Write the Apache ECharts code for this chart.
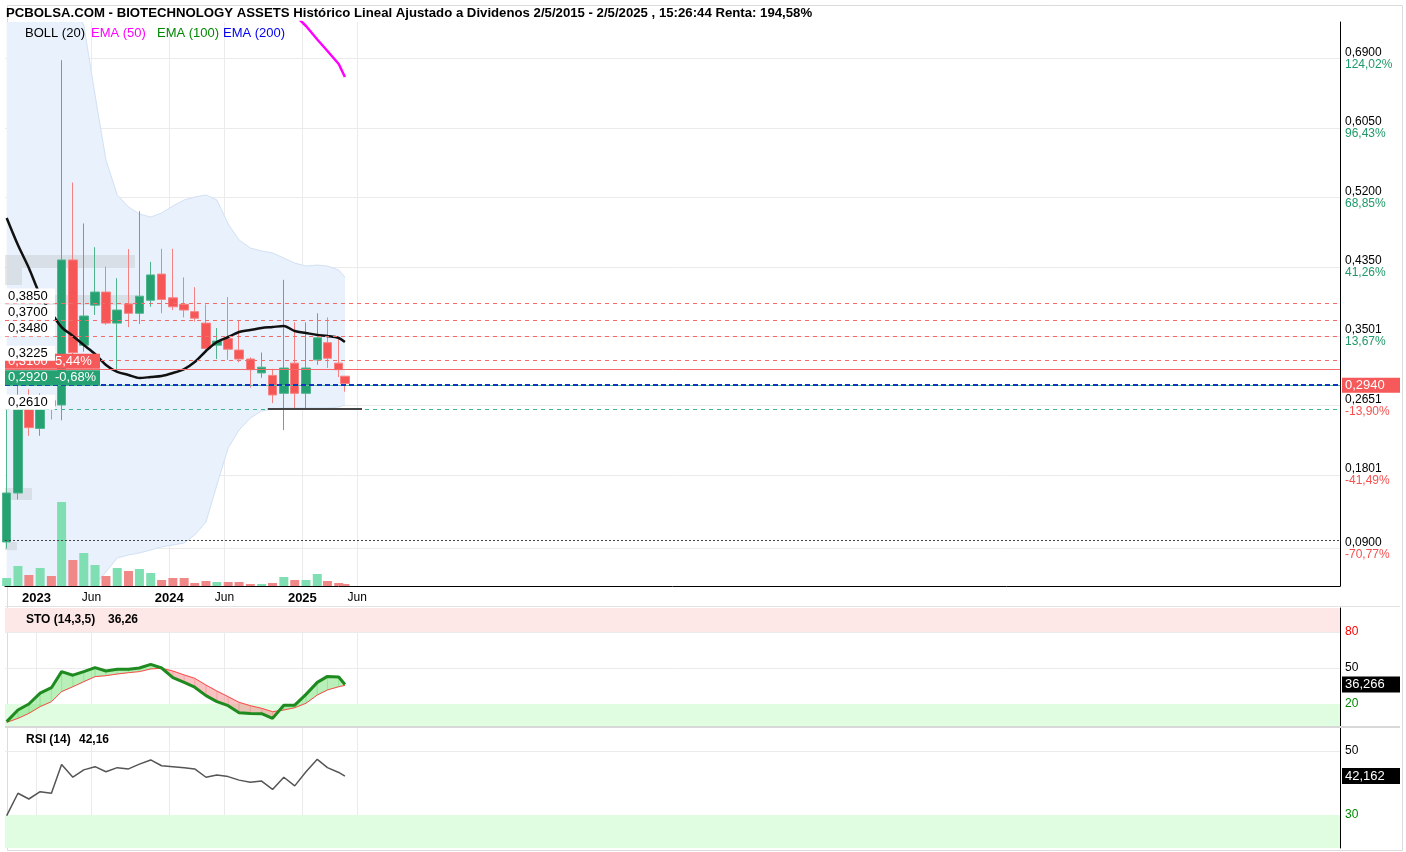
<!DOCTYPE html>
<html><head><meta charset="utf-8">
<script src="https://cdn.jsdelivr.net/npm/echarts@6/dist/echarts.min.js"></script>
<style>html,body{margin:0;padding:0;background:#fff}#c{width:1406px;height:852px}</style>
</head><body><div id="c"></div>
<script>
// ---------------- DATA ----------------
const dates = ['2022-10-11','2022-11-11','2022-12-11',
 '2023-01-11','2023-02-11','2023-03-11','2023-04-11','2023-05-11','2023-06-11','2023-07-11','2023-08-11','2023-09-11','2023-10-11','2023-11-11','2023-12-11',
 '2024-01-11','2024-02-11','2024-03-11','2024-04-11','2024-05-11','2024-06-11','2024-07-11','2024-08-11','2024-09-11','2024-10-11','2024-11-11','2024-12-11',
 '2025-01-11','2025-02-11','2025-03-11','2025-04-11','2025-04-28'];
const open  = [0.098,0.158,0.270,0.237,0.271,0.2657,0.4433,0.339,0.388,0.404,0.366,0.3895,0.378,0.394,0.426,0.397,0.389,0.380,0.366,0.339,0.347,0.333,0.322,0.305,0.302,0.280,0.317,0.280,0.321,0.342,0.317,0.301];
const close = [0.158,0.275,0.238,0.270,0.2645,0.4433,0.330,0.3747,0.404,0.366,0.382,0.378,0.399,0.425,0.395,0.386,0.382,0.372,0.335,0.344,0.334,0.322,0.309,0.312,0.278,0.311,0.280,0.311,0.348,0.323,0.309,0.292];
const high  = [0.270,0.300,0.285,0.280,0.275,0.688,0.538,0.488,0.459,0.435,0.421,0.4567,0.503,0.441,0.457,0.457,0.422,0.410,0.389,0.360,0.398,0.369,0.324,0.330,0.310,0.419,0.367,0.367,0.378,0.373,0.348,0.301];
const low   = [0.090,0.150,0.228,0.228,0.248,0.247,0.328,0.331,0.376,0.364,0.309,0.361,0.365,0.386,0.378,0.382,0.373,0.368,0.333,0.322,0.321,0.318,0.287,0.299,0.268,0.235,0.260,0.262,0.315,0.311,0.300,0.282];
const volume = [8,20,11,18,10,84,26,33,21,10,18,15,17,13,6,8,8,3,5,4,4,4,2,2,3,9,6,6,12,5,3,2];
const bollMid   = [0.4947,0.4616,0.4335,0.4004,0.3784,0.3612,0.3502,0.3392,0.3282,0.3147,0.3062,0.3025,0.2988,0.3000,0.3012,0.3049,0.3098,0.3184,0.3319,0.3429,0.3490,0.3551,0.3576,0.3600,0.3612,0.3625,0.3563,0.3539,0.3515,0.3502,0.3478,0.3429];
const bollUpper = [1.0677,1.0065,0.9453,0.8841,0.8351,0.7861,0.7555,0.7310,0.6453,0.5657,0.5229,0.5082,0.4996,0.4959,0.5008,0.5094,0.5168,0.5204,0.5229,0.5168,0.4874,0.4678,0.4580,0.4543,0.4519,0.4457,0.4396,0.4359,0.4371,0.4359,0.4310,0.4224];
const bollLower = [-0.0710,-0.0587,-0.0404,-0.0220,-0.0036,0.0123,0.0245,0.0356,0.0454,0.0613,0.0784,0.0821,0.0845,0.0882,0.0919,0.0943,0.0968,0.1066,0.1225,0.1678,0.2131,0.2351,0.2498,0.2584,0.2609,0.2621,0.2621,0.2621,0.2621,0.2621,0.2633,0.2658];
const ema50 = [null,null,null,null,null,null,null,null,null,null,null,null,null,null,null,null,null,null,null,null,null,null,null,null,null,0.7592,0.7433,0.7298,0.7133,0.6992,0.6833,0.6673];
const stoK = [5.3,15,20,29,33.6,47,44,47,50.3,47.5,49,49,50,53,50,42,38,34,27,22,18.6,12.8,12,11.9,8,19,19,28,38,43,42.5,36.27];
const stoD = [4.7,8,12.2,17.8,21.9,30.3,34.4,38.6,42.8,43.6,45,46.1,47,49.2,49.8,47.5,44.2,41.4,35.8,30.8,26.1,21.4,18.6,16.4,13.6,15,16.9,20.6,27.5,31.7,34.4,35.5];
const rsi = [29.8,36.8,35,37.3,36.8,45.8,41.8,44.1,45.1,43.5,44.8,44.4,45.9,47.2,45.4,45.1,44.8,44.4,41.8,42.5,42,40.9,40.2,40.6,38,41.8,39.1,43.5,47.4,44.8,43.3,42.16];
// volume-at-price profile (price band low/high, relative volume)
const vpLow  = [0.4335,0.4127,0.3882,0.1494,0.0880];
const vpHigh = [0.4494,0.4335,0.4004,0.1642,0.0980];
const vpVol  = [130,17,132,27,12];

const priceTickValues = [0.09,0.1801,0.2651,0.3501,0.435,0.52,0.605,0.69];
const priceTickLabels = ['0,0900','0,1801','0,2651','0,3501','0,4350','0,5200','0,6050','0,6900'];
const pctTickLabels   = ['-70,77%','-41,49%','-13,90%','13,67%','41,26%','68,85%','96,43%','124,02%'];
const xTickDates  = ['2023-01-01','2023-06-01','2024-01-01','2024-06-01','2025-01-01','2025-06-01'];
const xTickLabels = ['2023','Jun','2024','Jun','2025','Jun'];
const levelLines = [
  {v:0.385, text:'0,3850'}, {v:0.370, text:'0,3700'}, {v:0.348, text:'0,3480'}, {v:0.3225, text:'0,3225'}
];
const lastLine = {v:0.310, text:'0,3100  5,44%'};
const closeLine = {v:0.2920, text:'0,2920  -0,68%'};
const supportLine = {v:0.2610, text:'0,2610'};
const priceBadge = {v:0.2940, text:'0,2940'};
const minLine = 0.0980;
const segLine = {v:0.2607, from:'2024-09-28', to:'2025-06-14'};
const stoBadge = {v:36.266, text:'36,266'};
const rsiBadge = {v:42.162, text:'42,162'};
const titleText = 'PCBOLSA.COM - BIOTECHNOLOGY ASSETS Histórico Lineal Ajustado a Dividenos 2/5/2015 - 2/5/2025 , 15:26:44 Renta: 194,58%';
const legendItems = [{t:'BOLL (20)', c:'#000'}, {t:'EMA (50)', c:'#ff00ff'}, {t:'EMA (100)', c:'#008800'}, {t:'EMA (200)', c:'#0000ee'}];

// ---------------- LAYOUT ----------------
const FONT = '"Liberation Sans", Arial, sans-serif';
const DAY = 86400000;
const PX_PER_DAY = 0.3637;
const anchor = new Date(2023,0,1).getTime();
const xMin = anchor - 31.5/PX_PER_DAY*DAY;
const xMax = anchor + 1303.5/PX_PER_DAY*DAY;
const ts = s => { const p = s.split('-').map(Number); return new Date(p[0], p[1]-1, p[2]).getTime(); };
const T = dates.map(ts);
const GREEN = '#26a172', RED = '#f65656';
const L = 5, R = 66;
const legendX = [25, 91, 157, 223];

const candleData = T.map((t,i)=>[t, open[i], close[i], low[i], high[i]]);
const volData = T.map((t,i)=>({value:[t, volume[i]], itemStyle:{color: close[i]>=open[i] ? '#7fdfb2' : '#f08888'}}));
const pair = a => T.map((t,i)=>[t, a[i]]);

const xTickTs = xTickDates.map(ts);
function xAxisBase(gi, showLabels){
  return {type:'value', gridIndex:gi, min:xMin, max:xMax, scale:true,
    axisLine:{show:showLabels, onZero:false, lineStyle:{color:'#000', width:1}},
    axisTick:{show:false, customValues:xTickTs},
    splitLine:{show:gi!==1, lineStyle:{color:'#ebebeb', width:1}},
    axisLabel:{show:showLabels, customValues:xTickTs, margin:6, fontFamily:FONT, fontSize:12, color:'#000',
      formatter:(v)=>{ let i=0,b=1e15; xTickTs.forEach((x,j)=>{ if(Math.abs(x-v)<b){b=Math.abs(x-v); i=j;} }); const s = xTickLabels[i]; return /^\d{4}$/.test(s) ? '{b|'+s+'}' : s; },
      rich:{b:{fontWeight:'bold', fontSize:13, fontFamily:FONT, color:'#000'}}}
  };
}

const lblBase = {show:true, position:'insideStartTop', distance:[0,0], fontSize:13, lineHeight:13, fontFamily:FONT};
const lineMarks = [];
lineMarks.push({yAxis:lastLine.v, lineStyle:{type:'solid', color:'#f46a6a', width:1},
  label:Object.assign({}, lblBase, {formatter:lastLine.text, color:'#fff', backgroundColor:'#f65959', padding:[1,3,1,3], width:89})});
lineMarks.push({yAxis:closeLine.v, lineStyle:{type:'solid', color:'#5cc49a', width:1},
  label:Object.assign({}, lblBase, {formatter:closeLine.text, color:'#fff', backgroundColor:GREEN, padding:[1,3,1,3], width:89})});
lineMarks.push({yAxis:closeLine.v, lineStyle:{type:[5,3], color:'#1234c0', width:2}, label:{show:false}});
levelLines.forEach(l=>lineMarks.push({yAxis:l.v, lineStyle:{type:[4,4], color:'#f46a6a', width:1},
  label:Object.assign({}, lblBase, {formatter:l.text, color:'#000', backgroundColor:'#fff', padding:[1,3,1,3], width:44})}));
lineMarks.push({yAxis:supportLine.v, lineStyle:{type:[4,4], color:'#3cb88a', width:1},
  label:Object.assign({}, lblBase, {formatter:supportLine.text, color:'#000', backgroundColor:'#fff', padding:[1,3,1,3], width:44})});
lineMarks.push({yAxis:priceBadge.v, lineStyle:{color:'rgba(0,0,0,0)', width:1},
  label:{show:true, position:'end', distance:2, formatter:priceBadge.text, color:'#fff', backgroundColor:'#f65959', padding:[1,3,1,3], width:52, fontSize:13, lineHeight:13, fontFamily:FONT}});
lineMarks.push({yAxis:minLine, lineStyle:{type:[2,2], color:'#444', width:1}, label:{show:false}});
lineMarks.push([{coord:[ts(segLine.from), segLine.v]},{coord:[ts(segLine.to), segLine.v]}]);

function bandRender(params, api){
  const up = T.map((t,i)=>api.coord([t,bollUpper[i]]));
  const lo = T.map((t,i)=>api.coord([t,bollLower[i]]));
  const ch = [
    {type:'polygon', shape:{points:up.concat(lo.slice().reverse())}, style:{fill:'#e8f1fc'}},
    {type:'polyline', shape:{points:up}, style:{stroke:'#d2e1f4', fill:null, lineWidth:1}},
    {type:'polyline', shape:{points:lo}, style:{stroke:'#d2e1f4', fill:null, lineWidth:1}}
  ];
  return {type:'group', children:ch};
}
function profileRender(params, api){
  const ch = [];
  const x0 = api.coord([xMin, 0])[0];
  vpVol.forEach((v,i)=>{
    const yTop = api.coord([xMin, vpHigh[i]])[1], yBot = api.coord([xMin, vpLow[i]])[1];
    ch.push({type:'rect', shape:{x:x0, y:yTop, width:v, height:yBot-yTop}, style:{fill:'rgba(190,190,190,0.35)'}});
  });
  return {type:'group', children:ch};
}
function stoFillRender(params, api){
  const ch = [];
  const poly = (pts, up)=>({type:'polygon', shape:{points:pts.map(p=>api.coord(p))},
    style:{fill: up ? 'rgba(100,220,100,0.45)' : 'rgba(240,120,120,0.45)', stroke: up ? 'rgba(100,220,100,0.45)' : 'rgba(240,120,120,0.45)', lineWidth:0.5}});
  for (let i=0;i<T.length-1;i++){
    const k0=stoK[i], k1=stoK[i+1], d0=stoD[i], d1=stoD[i+1];
    const s0=k0-d0, s1=k1-d1;
    if (s0*s1 < 0){
      const f = s0/(s0-s1);
      const tx = T[i]+(T[i+1]-T[i])*f, vy = k0+(k1-k0)*f;
      ch.push(poly([[T[i],k0],[tx,vy],[T[i],d0]], s0>0));
      ch.push(poly([[tx,vy],[T[i+1],k1],[T[i+1],d1]], s1>0));
    } else {
      ch.push(poly([[T[i],k0],[T[i+1],k1],[T[i+1],d1],[T[i],d0]], (s0+s1)>=0));
    }
  }
  return {type:'group', children:ch};
}

const option = {
  animation:false,
  backgroundColor:'#fff',
  textStyle:{fontFamily:FONT},
  grid:[
    {left:L, right:R, top:22, height:564},
    {left:L, right:R, top:486, height:100},
    {left:L, right:R, top:608, height:120},
    {left:L, right:R, top:728, height:120}
  ],
  xAxis:[xAxisBase(0,true), xAxisBase(1,false), xAxisBase(2,false), xAxisBase(3,false)],
  yAxis:[
    {type:'value', gridIndex:0, position:'right', min:0.04411, max:0.73469,
      axisLine:{show:true, lineStyle:{color:'#000', width:1}}, axisTick:{show:false, customValues:priceTickValues},
      splitLine:{show:true, lineStyle:{color:'#ebebeb'}},
      axisLabel:{customValues:priceTickValues, margin:5, fontFamily:FONT, fontSize:12, align:'left',
        formatter:(v)=>{ let i=0,b=1e9; priceTickValues.forEach((p,j)=>{ if(Math.abs(p-v)<b){b=Math.abs(p-v); i=j;} });
          return '{p|'+priceTickLabels[i]+'}\n{'+(pctTickLabels[i].charAt(0)==='-'?'r':'g')+'|'+pctTickLabels[i]+'}'; },
        rich:{p:{color:'#000', fontSize:12, lineHeight:12, fontFamily:FONT}, g:{color:'#1e9a68', fontSize:12, lineHeight:12, fontFamily:FONT}, r:{color:'#f55050', fontSize:12, lineHeight:12, fontFamily:FONT}}}},
    {type:'value', gridIndex:1, min:0, max:100, show:false},
    {type:'value', gridIndex:2, position:'right', min:0, max:100,
      axisLine:{show:true, lineStyle:{color:'#000'}}, axisTick:{show:false, customValues:[20,50,80]},
      splitLine:{show:true, lineStyle:{color:'#ebebeb'}},
      axisLabel:{customValues:[20,50,80], margin:5, fontFamily:FONT, fontSize:12, align:'left',
        formatter:v=> v===80?'{r|80}':(v===20?'{g|20}':'{k|50}'),
        rich:{r:{color:'#f00', fontSize:12}, g:{color:'#080', fontSize:12}, k:{color:'#000', fontSize:12}}}},
    {type:'value', gridIndex:3, position:'right', min:19.6875, max:57.1875,
      axisLine:{show:true, lineStyle:{color:'#000'}}, axisTick:{show:false, customValues:[30,50]},
      splitLine:{show:true, lineStyle:{color:'#ebebeb'}},
      axisLabel:{customValues:[30,50], margin:5, fontFamily:FONT, fontSize:12, align:'left',
        formatter:v=> v===30?'{g|30}':'{k|50}',
        rich:{g:{color:'#080', fontSize:12}, k:{color:'#000', fontSize:12}}}}
  ],
  series:[
    {type:'custom', name:'bollBand', xAxisIndex:0, yAxisIndex:0, data:[[T[0], bollMid[0]]], encode:{x:0, y:1}, clip:true, silent:true, z:1, renderItem:bandRender},
    {type:'custom', name:'profile', xAxisIndex:0, yAxisIndex:0, data:[[T[0], bollMid[0]]], encode:{x:0, y:1}, clip:true, silent:true, z:1, renderItem:profileRender},
    {type:'bar', name:'vol', xAxisIndex:1, yAxisIndex:1, data:volData, barWidth:9, z:2},
    {type:'candlestick', name:'price', xAxisIndex:0, yAxisIndex:0, data:candleData, barWidth:9, z:3,
      itemStyle:{color:GREEN, color0:RED, borderColor:'#4fb48c', borderColor0:'#f78080', borderWidth:1}},
    {type:'line', name:'boll', xAxisIndex:0, yAxisIndex:0, data:pair(bollMid), symbol:'none', z:4, smooth:0.3,
      lineStyle:{color:'#111', width:2.5}},
    {type:'line', name:'ema50', xAxisIndex:0, yAxisIndex:0, data:pair(ema50), symbol:'none', z:5,
      lineStyle:{color:'#ff00ff', width:2.5},
      markLine:{silent:true, symbol:['none','none'], animation:false, lineStyle:{color:'#444', width:2, type:'solid'}, label:{show:false}, data:lineMarks}},
    // STO
    {type:'line', xAxisIndex:2, yAxisIndex:2, data:[], markArea:{silent:true, itemStyle:{color:'#fde7e7'}, data:[[{yAxis:80},{yAxis:100}]]}},
    {type:'line', xAxisIndex:2, yAxisIndex:2, data:[], markArea:{silent:true, itemStyle:{color:'#e1fde1'}, data:[[{yAxis:0},{yAxis:20}]]}},
    {type:'custom', xAxisIndex:2, yAxisIndex:2, data:[[T[0], stoK[0]]], encode:{x:0, y:1}, clip:true, silent:true, z:2, renderItem:stoFillRender},
    {type:'line', xAxisIndex:2, yAxisIndex:2, data:pair(stoD), symbol:'none', lineStyle:{color:'#ff4a4a', width:1}, z:3},
    {type:'line', xAxisIndex:2, yAxisIndex:2, data:pair(stoK), symbol:'none', lineStyle:{color:'#1f8a1f', width:3}, z:4,
      markLine:{silent:true, symbol:['none','none'], data:[{yAxis:stoBadge.v, lineStyle:{color:'rgba(0,0,0,0)', width:1},
        label:{show:true, position:'end', distance:2, formatter:stoBadge.text, color:'#fff', backgroundColor:'#000', padding:[2,3,1,3], width:52, fontSize:13, lineHeight:13, fontFamily:FONT}}]}},
    // RSI
    {type:'line', xAxisIndex:3, yAxisIndex:3, data:[], markArea:{silent:true, itemStyle:{color:'#e1fde1'}, data:[[{yAxis:19.6875},{yAxis:30}]]}},
    {type:'line', xAxisIndex:3, yAxisIndex:3, data:pair(rsi), symbol:'none', lineStyle:{color:'#555', width:1.5}, z:3,
      markLine:{silent:true, symbol:['none','none'], data:[{yAxis:rsiBadge.v, lineStyle:{color:'rgba(0,0,0,0)', width:1},
        label:{show:true, position:'end', distance:2, formatter:rsiBadge.text, color:'#fff', backgroundColor:'#000', padding:[2,3,1,3], width:52, fontSize:13, lineHeight:13, fontFamily:FONT}}]}}
  ],
  graphic:[
    {type:'rect', left:5, top:3, shape:{width:1395, height:845}, style:{fill:'none', stroke:'#dcdcdc', lineWidth:1}, z:-1, silent:true},
    {type:'rect', left:5, top:606, shape:{width:1395, height:1}, style:{fill:'#e2e2e2'}, z:10, silent:true},
    {type:'rect', left:5, top:726, shape:{width:1395, height:2}, style:{fill:'#d8d8d8'}, z:10, silent:true},
    {type:'text', left:6, top:7, style:{text:titleText, font:'bold 13.2px '+FONT, fill:'#000'}, z:10}
  ].concat(legendItems.map((it,i)=>({type:'text', left:legendX[i], top:27, style:{text:it.t, font:'13px '+FONT, fill:it.c}, z:10})))
  .concat([
    {type:'text', left:26, top:614, style:{text:'STO (14,3,5)', font:'bold 12px '+FONT, fill:'#000'}, z:10},
    {type:'text', left:108, top:614, style:{text:'36,26', font:'bold 12px '+FONT, fill:'#000'}, z:10},
    {type:'text', left:26, top:734, style:{text:'RSI (14)', font:'bold 12px '+FONT, fill:'#000'}, z:10},
    {type:'text', left:79, top:734, style:{text:'42,16', font:'bold 12px '+FONT, fill:'#000'}, z:10}
  ])
};
const chart = echarts.init(document.getElementById('c'), null, {renderer:'canvas'});
chart.setOption(option);
</script></body></html>
